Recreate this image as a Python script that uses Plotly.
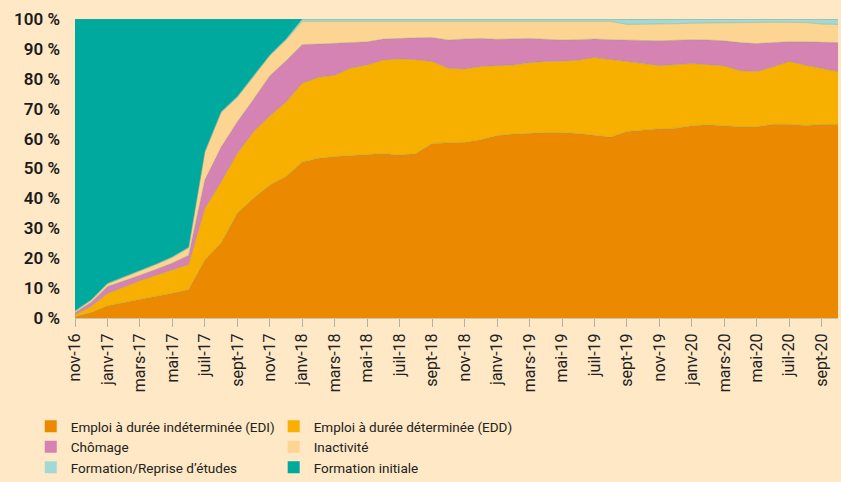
import plotly.graph_objects as go

months = [
    "nov-16", "déc-16",
    "janv-17", "févr-17", "mars-17", "avr-17", "mai-17", "juin-17",
    "juil-17", "août-17", "sept-17", "oct-17", "nov-17", "déc-17",
    "janv-18", "févr-18", "mars-18", "avr-18", "mai-18", "juin-18",
    "juil-18", "août-18", "sept-18", "oct-18", "nov-18", "déc-18",
    "janv-19", "févr-19", "mars-19", "avr-19", "mai-19", "juin-19",
    "juil-19", "août-19", "sept-19", "oct-19", "nov-19", "déc-19",
    "janv-20", "févr-20", "mars-20", "avr-20", "mai-20", "juin-20",
    "juil-20", "août-20", "sept-20", "oct-20",
]
tick_labels = months[::2]
y_ticks = [0, 10, 20, 30, 40, 50, 60, 70, 80, 90, 100]
y_tick_labels = [f"{v} %" for v in y_ticks]

edi = [0.4, 1.8, 4.1, 5.2, 6.4, 7.3, 8.3, 9.5, 19.5, 25.1, 35.1, 40.1, 44.5, 47.3,
       52.2, 53.4, 54.0, 54.4, 54.7, 55.0, 54.5, 55.0, 58.4, 58.6, 58.8, 59.6,
       61.0, 61.5, 61.8, 62.0, 62.0, 61.7, 61.1, 60.5, 62.4, 62.9, 63.3, 63.5,
       64.3, 64.6, 64.3, 64.0, 64.0, 64.8, 64.8, 64.4, 64.7, 64.8]
edd = [0.7, 2.1, 4.1, 5.1, 6.1, 7.0, 7.7, 8.4, 17.2, 20.4, 20.0, 22.2, 23.1, 24.9,
       26.3, 27.1, 27.2, 29.2, 29.9, 31.3, 32.1, 31.4, 27.4, 24.9, 24.5, 24.5,
       23.4, 23.1, 23.6, 23.8, 23.9, 24.5, 26.0, 26.0, 23.4, 22.2, 21.1, 21.3,
       20.8, 20.1, 20.0, 18.7, 18.4, 19.2, 21.0, 20.1, 18.7, 17.6]
chomage = [0.7, 1.4, 2.3, 2.0, 1.8, 2.0, 2.4, 3.1, 9.5, 11.7, 10.5, 10.9, 13.4, 13.8,
           13.0, 11.1, 10.6, 8.5, 7.8, 7.0, 7.0, 7.3, 8.0, 9.5, 10.0, 9.4,
           8.8, 8.7, 8.1, 7.4, 7.1, 6.9, 6.2, 6.6, 7.1, 7.7, 8.3, 8.1,
           8.0, 8.3, 8.4, 9.4, 9.4, 8.1, 6.6, 7.9, 8.8, 9.7]
inactivite = [0.4, 0.6, 0.9, 1.2, 1.4, 1.6, 1.8, 2.4, 9.2, 11.5, 8.2, 7.7, 6.7, 6.9,
              7.7, 7.6, 7.4, 7.1, 6.8, 6.0, 5.7, 5.6, 5.4, 6.2, 5.9, 5.7,
              6.0, 5.9, 5.7, 6.0, 6.2, 6.1, 5.9, 6.1, 5.3, 5.4, 5.5, 5.5,
              5.5, 5.6, 6.0, 6.6, 7.0, 6.8, 6.5, 6.4, 6.1, 6.1]
formation_reprise = [0.2, 0.2, 0.2, 0.2, 0.2, 0.2, 0.3, 0.3, 0.3, 0.3, 0.3, 0.3, 0.3, 0.4,
                     0.8, 0.8, 0.8, 0.8, 0.8, 0.7, 0.7, 0.7, 0.8, 0.8, 0.8, 0.8,
                     0.8, 0.8, 0.8, 0.8, 0.8, 0.8, 0.8, 0.8, 1.8, 1.8, 1.8, 1.6,
                     1.4, 1.4, 1.3, 1.3, 1.2, 1.1, 1.1, 1.2, 1.7, 1.8]
formation_initiale = [97.6, 93.9, 88.4, 86.3, 84.1, 81.9, 79.5, 76.3, 44.3, 31.0, 25.9, 18.8, 12.0, 6.7,
                      0.0, 0.0, 0.0, 0.0, 0.0, 0.0, 0.0, 0.0, 0.0, 0.0, 0.0, 0.0,
                      0.0, 0.0, 0.0, 0.0, 0.0, 0.0, 0.0, 0.0, 0.0, 0.0, 0.0, 0.0,
                      0.0, 0.0, 0.0, 0.0, 0.0, 0.0, 0.0, 0.0, 0.0, 0.0]

series = [
    ("Emploi à durée indéterminée (EDI)", edi, "#EB8A00", "legend"),
    ("Emploi à durée déterminée (EDD)", edd, "#F8B000", "legend2"),
    ("Chômage", chomage, "#D583B2", "legend"),
    ("Inactivité", inactivite, "#FDD592", "legend2"),
    ("Formation/Reprise d’études", formation_reprise, "#A3D9D4", "legend"),
    ("Formation initiale", formation_initiale, "#00A99E", "legend2"),
]

BG = "#FEE8C5"
fig = go.Figure()
for name, vals, col, lg in series:
    fig.add_trace(go.Scatter(
        x=months, y=vals, name=name, mode="lines",
        stackgroup="one", groupnorm="percent",
        line=dict(width=0.6, color="rgba(120,150,120,0.55)"),
        fillcolor=col, showlegend=False, hoverinfo="skip",
    ))
for name, vals, col, lg in series:
    fig.add_trace(go.Bar(x=[None], y=[None], name=name, marker=dict(color=col, line=dict(width=0)),
                         showlegend=True, legend=lg))

leg_font = dict(size=13.5, family="Roboto, Arial, sans-serif", color="#222")
fig.update_layout(
    width=841, height=482,
    paper_bgcolor=BG, plot_bgcolor=BG,
    margin=dict(l=75, r=3, t=19, b=164, autoexpand=False),
    font=dict(family="Roboto, Arial, sans-serif", color="#1a1a1a"),
    xaxis=dict(
        type="category", range=[0, len(months) - 1], automargin=False,
        tickmode="array", tickvals=tick_labels, ticktext=tick_labels,
        tickangle=-90, tickfont=dict(size=16, color="#222"),
        ticks="outside", ticklen=8, tickcolor="#b5b0a5", tickwidth=1,
        showline=True, linecolor="#c9c2b5", linewidth=1,
        showgrid=False, zeroline=False,
    ),
    yaxis=dict(
        range=[0, 100], tickmode="array", tickvals=y_ticks, ticktext=y_tick_labels,
        tickfont=dict(size=17, color="#1a1a1a", weight=600), automargin=False,
        ticks="", ticklabelstandoff=14,
        showgrid=False, zeroline=False, showline=False,
    ),
    legend=dict(
        orientation="v", x=-0.058, xanchor="left", y=-0.311, yanchor="top",
        font=leg_font, bgcolor="rgba(0,0,0,0)", traceorder="normal", tracegroupgap=0,
    ),
    legend2=dict(
        orientation="v", x=0.2604, xanchor="left", y=-0.311, yanchor="top",
        font=leg_font, bgcolor="rgba(0,0,0,0)", traceorder="normal", tracegroupgap=0,
    ),
    barmode="overlay",
)

fig.write_html(
    "out.html",
    config={"displayModeBar": False},
    post_script="document.body.style.margin='0';document.body.style.padding='0';",
)
